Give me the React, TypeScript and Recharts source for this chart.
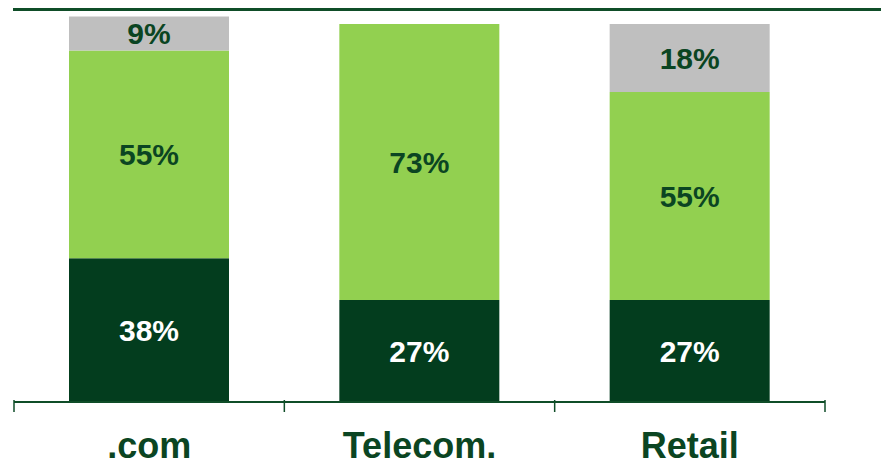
import { BarChart, Bar, XAxis, YAxis, LabelList } from 'recharts';

const categories = ['.com', 'Telecom.', 'Retail'];
const darkShare = [38, 27, 27];
const lightShare = [55, 73, 55];
const greyShare: (number | null)[] = [9, null, 18];

const data = categories.map((name, i) => ({
  name,
  dark: darkShare[i],
  light: lightShare[i],
  grey: greyShare[i],
}));

const W = 881;
const H = 462;
const LEFT = 14;
const RIGHT = 56;
const BAND = (W - LEFT - RIGHT) / categories.length;
const AXIS_COLOR = '#0f4d28';
const TEXT_DARK = '#0b4522';
const FONT = '"Liberation Sans", Arial, sans-serif';

const pct = (v: any) => (v == null ? '' : `${v}%`);

function CategoryTick(props: any) {
  const { x, y, payload, index } = props;
  const left = x - BAND / 2;
  return (
    <g>
      <line x1={left} y1={y - 10} x2={left} y2={y + 2} stroke={AXIS_COLOR} strokeWidth={1.5} />
      {index === categories.length - 1 && (
        <line x1={x + BAND / 2} y1={y - 10} x2={x + BAND / 2} y2={y + 2} stroke={AXIS_COLOR} strokeWidth={1.5} />
      )}
      <text x={x} y={y + 48} textAnchor="middle" fill={TEXT_DARK} fontSize={36} fontWeight="bold" fontFamily={FONT}>
        {payload.value}
      </text>
    </g>
  );
}

export default function App() {
  return (
    <div style={{ position: 'relative', width: W, height: H }}>
      <style>{`body{margin:0}`}</style>
      <div style={{ position: 'absolute', left: 13, top: 8, width: W - 13, height: 3, background: AXIS_COLOR }} />
      <BarChart
        width={W}
        height={H}
        data={data}
        margin={{ top: 10, right: RIGHT, left: LEFT, bottom: 0 }}
        barSize={160}
      >
        <XAxis
          dataKey="name"
          height={60}
          tickLine={false}
          axisLine={{ stroke: AXIS_COLOR, strokeWidth: 2 }}
          tick={<CategoryTick />}
          interval={0}
        />
        <YAxis hide domain={[0, 103.7]} />
        <Bar dataKey="dark" stackId="s" fill="#033d1e" isAnimationActive={false}>
          <LabelList dataKey="dark" position="center" formatter={pct} fill="#ffffff" fontSize={30} fontWeight="bold" fontFamily={FONT} />
        </Bar>
        <Bar dataKey="light" stackId="s" fill="#92d050" isAnimationActive={false}>
          <LabelList dataKey="light" position="center" formatter={pct} fill={TEXT_DARK} fontSize={30} fontWeight="bold" fontFamily={FONT} />
        </Bar>
        <Bar dataKey="grey" stackId="s" fill="#bfbfbf" isAnimationActive={false}>
          <LabelList dataKey="grey" position="center" formatter={pct} fill={TEXT_DARK} fontSize={30} fontWeight="bold" fontFamily={FONT} />
        </Bar>
      </BarChart>
    </div>
  );
}
